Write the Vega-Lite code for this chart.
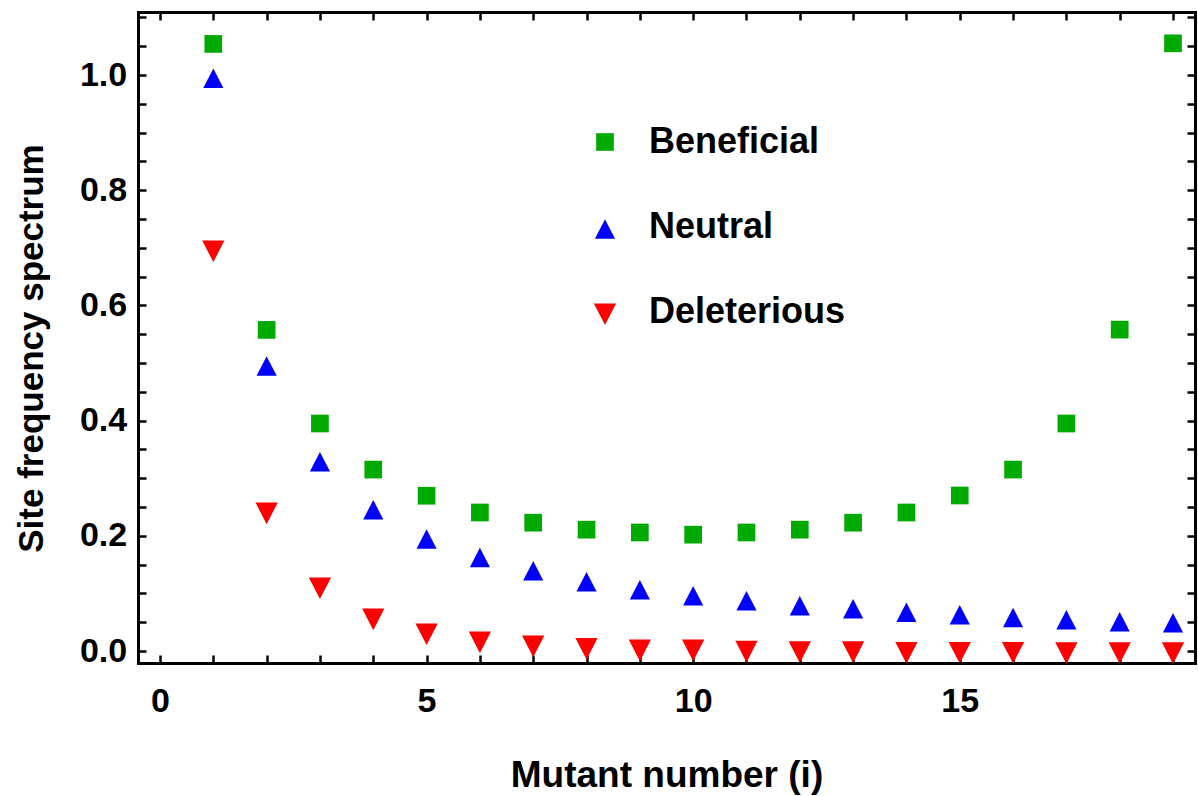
{
  "$schema": "https://vega.github.io/schema/vega-lite/v6.json",
  "width": 1057,
  "height": 651,
  "autosize": "none",
  "padding": {"left": 138, "top": 12, "right": 3, "bottom": 133},
  "background": "white",
  "config": {
    "font": "Liberation Sans",
    "view": {"stroke": null},
    "axis": {
      "grid": false,
      "domainColor": "black",
      "domainWidth": 3,
      "domainCap": "square",
      "tickColor": "black",
      "tickWidth": 2.5,
      "tickSize": -8,
      "labelColor": "black",
      "labelFont": "Liberation Sans",
      "labelFontWeight": "bold",
      "labelFontSize": 34,
      "labelOverlap": false,
      "labelFlush": false,
      "titleColor": "black",
      "titleFont": "Liberation Sans",
      "titleFontWeight": "bold",
      "titleFontSize": 36,
      "zindex": 1
    }
  },
  "data": {
    "values": [
      {"i": 1, "series": "Beneficial", "value": 1.054},
      {"i": 2, "series": "Beneficial", "value": 0.5575},
      {"i": 3, "series": "Beneficial", "value": 0.395},
      {"i": 4, "series": "Beneficial", "value": 0.315},
      {"i": 5, "series": "Beneficial", "value": 0.2696},
      {"i": 6, "series": "Beneficial", "value": 0.2405},
      {"i": 7, "series": "Beneficial", "value": 0.2228},
      {"i": 8, "series": "Beneficial", "value": 0.2107},
      {"i": 9, "series": "Beneficial", "value": 0.2058},
      {"i": 10, "series": "Beneficial", "value": 0.202},
      {"i": 11, "series": "Beneficial", "value": 0.2058},
      {"i": 12, "series": "Beneficial", "value": 0.2107},
      {"i": 13, "series": "Beneficial", "value": 0.2228},
      {"i": 14, "series": "Beneficial", "value": 0.2405},
      {"i": 15, "series": "Beneficial", "value": 0.27},
      {"i": 16, "series": "Beneficial", "value": 0.315},
      {"i": 17, "series": "Beneficial", "value": 0.395},
      {"i": 18, "series": "Beneficial", "value": 0.558},
      {"i": 19, "series": "Beneficial", "value": 1.055},
      {"i": 1, "series": "Neutral", "value": 0.998},
      {"i": 2, "series": "Neutral", "value": 0.4985},
      {"i": 3, "series": "Neutral", "value": 0.332},
      {"i": 4, "series": "Neutral", "value": 0.249},
      {"i": 5, "series": "Neutral", "value": 0.198},
      {"i": 6, "series": "Neutral", "value": 0.166},
      {"i": 7, "series": "Neutral", "value": 0.143},
      {"i": 8, "series": "Neutral", "value": 0.124},
      {"i": 9, "series": "Neutral", "value": 0.11},
      {"i": 10, "series": "Neutral", "value": 0.0997},
      {"i": 11, "series": "Neutral", "value": 0.091},
      {"i": 12, "series": "Neutral", "value": 0.082},
      {"i": 13, "series": "Neutral", "value": 0.077},
      {"i": 14, "series": "Neutral", "value": 0.0708},
      {"i": 15, "series": "Neutral", "value": 0.0667},
      {"i": 16, "series": "Neutral", "value": 0.0618},
      {"i": 17, "series": "Neutral", "value": 0.0578},
      {"i": 18, "series": "Neutral", "value": 0.0543},
      {"i": 19, "series": "Neutral", "value": 0.0526},
      {"i": 1, "series": "Deleterious", "value": 0.698},
      {"i": 2, "series": "Deleterious", "value": 0.243},
      {"i": 3, "series": "Deleterious", "value": 0.113},
      {"i": 4, "series": "Deleterious", "value": 0.059},
      {"i": 5, "series": "Deleterious", "value": 0.033},
      {"i": 6, "series": "Deleterious", "value": 0.019},
      {"i": 7, "series": "Deleterious", "value": 0.012},
      {"i": 8, "series": "Deleterious", "value": 0.008},
      {"i": 9, "series": "Deleterious", "value": 0.005},
      {"i": 10, "series": "Deleterious", "value": 0.005},
      {"i": 11, "series": "Deleterious", "value": 0.003},
      {"i": 12, "series": "Deleterious", "value": 0.002},
      {"i": 13, "series": "Deleterious", "value": 0.002},
      {"i": 14, "series": "Deleterious", "value": 0.001},
      {"i": 15, "series": "Deleterious", "value": 0.001},
      {"i": 16, "series": "Deleterious", "value": 0.001},
      {"i": 17, "series": "Deleterious", "value": 0.0005},
      {"i": 18, "series": "Deleterious", "value": 0.0005},
      {"i": 19, "series": "Deleterious", "value": 0.0003}
    ]
  },
  "layer": [
    {
      "mark": {"type": "point", "filled": true, "opacity": 1, "strokeWidth": 0},
      "encoding": {
        "x": {
          "field": "i", "type": "quantitative",
          "scale": {"domain": [-0.4125, 19.4125], "nice": false, "zero": false},
          "axis": {
            "orient": "bottom",
            "values": [0,1,2,3,4,5,6,7,8,9,10,11,12,13,14,15,16,17,18,19],
            "labelExpr": "datum.value % 5 === 0 ? format(datum.value, 'd') : ''",
            "labelBaseline": "alphabetic",
            "labelPadding": 56.7,
            "title": "Mutant number (i)",
            "titleFontSize": 37,
            "titleBaseline": "alphabetic",
            "titleX": 528.5,
            "titleY": 123.7,
            "titleAlign": "center"
          }
        },
        "y": {
          "field": "value", "type": "quantitative",
          "scale": {"domain": [-0.0208, 1.1094], "nice": false, "zero": false},
          "axis": {
            "orient": "left",
            "values": [0,0.05,0.1,0.15,0.2,0.25,0.3,0.35,0.4,0.45,0.5,0.55,0.6,0.65,0.7,0.75,0.8,0.85,0.9,0.95,1.0,1.05,1.1],
            "labelExpr": "abs(datum.value*5 - round(datum.value*5)) < 0.000001 ? format(datum.value, '.1f') : ''",
            "labelBaseline": "middle",
            "labelPadding": 19.3,
            "title": "Site frequency spectrum",
            "titleFontSize": 35,
            "titleBaseline": "alphabetic",
            "titleAngle": -90,
            "titleX": -96,
            "titleY": 336,
            "titleAlign": "center"
          }
        },
        "color": {
          "field": "series", "type": "nominal",
          "scale": {"domain": ["Beneficial", "Neutral", "Deleterious"], "range": ["#00aa00", "#0000ff", "#ff0000"]},
          "legend": {
            "orient": "none",
            "legendX": 449,
            "legendY": 112,
            "title": null,
            "padding": 0,
            "labelFont": "Liberation Sans",
            "labelFontSize": 36,
            "labelFontWeight": "bold",
            "labelColor": "black",
            "labelLimit": 0,
            "labelOffset": 26,
            "rowPadding": 49,
            "symbolStrokeWidth": 0,
            "symbolOpacity": 1
          }
        },
        "shape": {
          "field": "series", "type": "nominal",
          "scale": {"domain": ["Beneficial", "Neutral", "Deleterious"], "range": ["square", "M0,-0.764L-1,1.176L1,1.176Z", "M0,1.176L-1,-0.764L1,-0.764Z"]}
        },
        "size": {
          "field": "series", "type": "nominal",
          "scale": {"domain": ["Beneficial", "Neutral", "Deleterious"], "range": [313, 497, 497]}
        }
      }
    },
    {
      "mark": {"type": "point", "opacity": 0},
      "encoding": {
        "x": {
          "field": "i", "type": "quantitative",
          "scale": {"domain": [-0.4125, 19.4125], "nice": false, "zero": false},
          "axis": {
            "orient": "top",
            "values": [0,1,2,3,4,5,6,7,8,9,10,11,12,13,14,15,16,17,18,19],
            "labels": false,
            "title": null
          }
        },
        "y": {
          "field": "value", "type": "quantitative",
          "scale": {"domain": [-0.0208, 1.1094], "nice": false, "zero": false},
          "axis": {
            "orient": "right",
            "values": [0,0.05,0.1,0.15,0.2,0.25,0.3,0.35,0.4,0.45,0.5,0.55,0.6,0.65,0.7,0.75,0.8,0.85,0.9,0.95,1.0,1.05,1.1],
            "labels": false,
            "title": null
          }
        }
      }
    }
  ],
  "resolve": {"axis": {"x": "independent", "y": "independent"}}
}
